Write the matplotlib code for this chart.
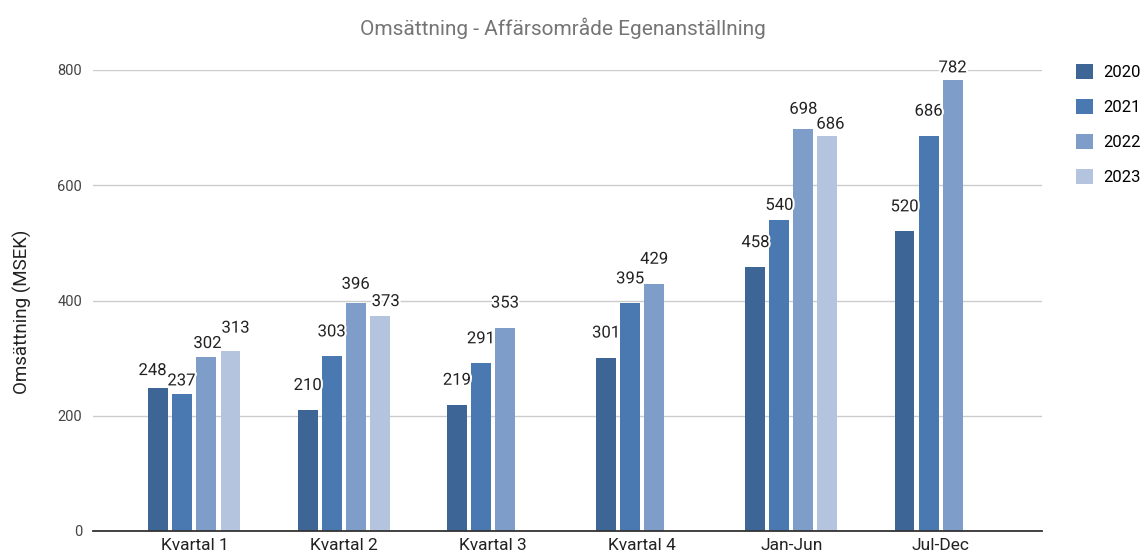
import numpy as np
import matplotlib
matplotlib.use("Agg")
import matplotlib.pyplot as plt
import matplotlib.patheffects as pe

plt.rcParams['font.family'] = ['Roboto', 'DejaVu Sans']

categories = ["Kvartal 1", "Kvartal 2", "Kvartal 3", "Kvartal 4", "Jan-Jun", "Jul-Dec"]
years = ["2020", "2021", "2022", "2023"]
v2020 = [248, 210, 219, 301, 458, 520]
v2021 = [237, 303, 291, 395, 540, 686]
v2022 = [302, 396, 353, 429, 698, 782]
v2023 = [313, 373, np.nan, np.nan, 686, np.nan]
series = [v2020, v2021, v2022, v2023]
colors = ["#3D6595", "#4A78B1", "#7F9DC9", "#B5C4DE"]

# label nudges (pixels) where labels were pushed around to avoid overlap
nudge = {(0, 0): (-6, -7), (0, 1): (-1, -11), (0, 2): (1, -11), (0, 3): (5, -2),
         (1, 2): (0, -6), (1, 3): (6, -10),
         (4, 1): (0, -10), (4, 2): (0, -5), (4, 3): (3, -13),
         (5, 2): (0, -12)}

fig = plt.figure(figsize=(11.45, 5.59), dpi=100)
ax = fig.add_axes([93/1145, 28/559, 949/1145, 461/559])

x = np.arange(len(categories))
slot = 0.161
width = 0.134
halo = [pe.withStroke(linewidth=3, foreground="white")]
for i, vals in enumerate(series):
    pos = x + (i - 1.5) * slot
    ax.bar(pos, vals, width, color=colors[i], label=years[i], zorder=3)
    for j, v in enumerate(vals):
        if np.isnan(v):
            continue
        dx, dy = nudge.get((j, i), (0, 0))
        ax.annotate(str(int(v)), (pos[j], v), xytext=(dx, 20 + dy),
                    textcoords="offset pixels", ha="center", va="baseline",
                    fontsize=12, color="#222222", zorder=5,
                    path_effects=halo, annotation_clip=False)

ax.set_xlim(-0.68, 5.68)
ax.set_ylim(0, 800)
ax.set_yticks([0, 200, 400, 600, 800])
ax.set_xticks(x)
ax.set_xticklabels(categories)
ax.tick_params(axis="x", length=0, labelsize=12.5, labelcolor="#222222", pad=5)
ax.tick_params(axis="y", length=0, labelsize=10.5, labelcolor="#444444", pad=8)
ax.grid(axis="y", color="#cccccc", linewidth=1, zorder=0)
for s in ["top", "right", "left"]:
    ax.spines[s].set_visible(False)
ax.spines["bottom"].set_color("#333333")
ax.spines["bottom"].set_linewidth(1.3)
ax.spines["bottom"].set_zorder(4)

fig.text(22/1145, 1 - 312/559, "Omsättning (MSEK)", rotation=90,
         ha="center", va="center", fontsize=13.5, color="#222222")
fig.text(563/1145, 1 - 28/559, "Omsättning - Affärsområde Egenanställning",
         ha="center", va="center", fontsize=15, color="#757575")

ax.legend(loc="upper left", bbox_to_anchor=(1076/1145, 1 - 64/559),
          bbox_transform=fig.transFigure, frameon=False, fontsize=12,
          handlelength=1.0, handleheight=1.0, handletextpad=0.65,
          labelspacing=1.13, borderpad=0, borderaxespad=0)

fig.savefig("out.png", dpi=100)
